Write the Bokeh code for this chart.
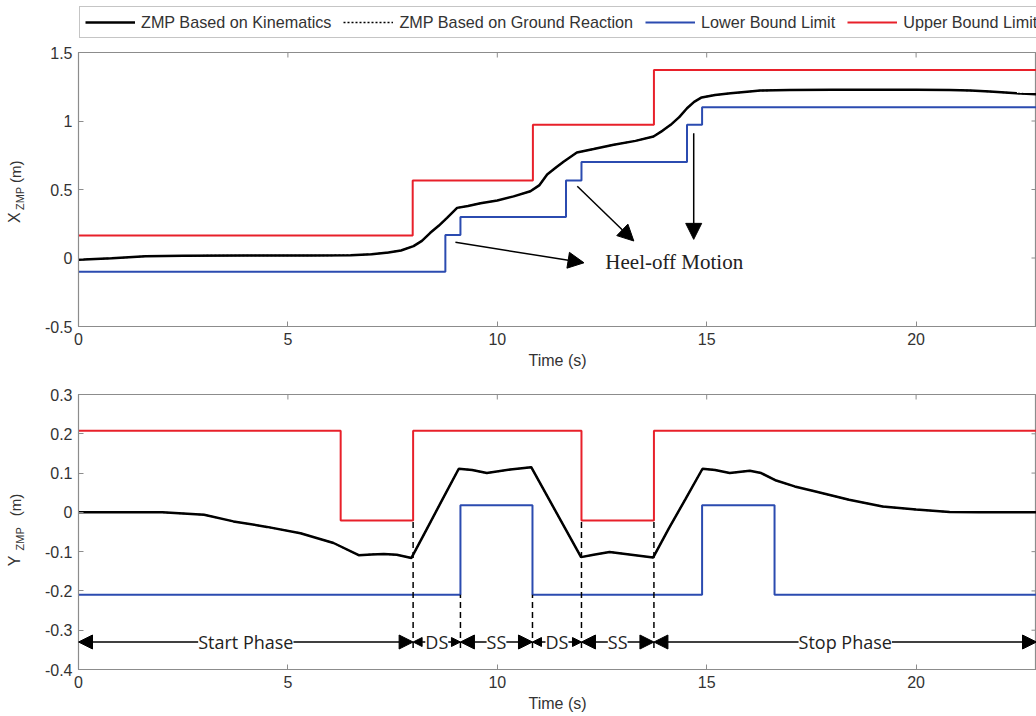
import math
import numpy as np
from bokeh.plotting import figure
from bokeh.layouts import column, row
from bokeh.models import (Legend, LegendItem, FixedTicker, Arrow, NormalHead, Label, Range1d)
from bokeh.core.properties import value
from bokeh.embed import file_html
from bokeh.resources import INLINE

# ---------------- data ----------------
t_end = 22.875
x_ticks = [0, 5, 10, 15, 20]
x_tick_labels = ["0", "5", "10", "15", "20"]

# X ZMP (top panel)
xk_t = [0, 0.8, 1.6, 2.5, 4.0, 5.5, 6.5, 7.0, 7.4, 7.7, 8.0, 8.2, 8.4, 8.6, 8.8, 9.04,
        9.3, 9.6, 10.0, 10.39, 10.79, 11.0, 11.19, 11.4, 11.59, 11.9, 12.3, 12.78, 13.3,
        13.73, 13.95, 14.14, 14.35, 14.53, 14.7, 14.88, 15.2, 15.57, 16.03, 16.28, 16.98,
        18.0, 19.0, 20.0, 20.8, 21.3, 21.76, 22.4, 22.875]
xk_v = [-0.012, -0.002, 0.013, 0.017, 0.018, 0.018, 0.02, 0.028, 0.04, 0.055, 0.087, 0.125,
        0.184, 0.235, 0.293, 0.366, 0.38, 0.40, 0.42, 0.45, 0.487, 0.53, 0.609, 0.66, 0.705,
        0.77, 0.795, 0.827, 0.855, 0.887, 0.93, 0.972, 1.03, 1.093, 1.14, 1.172, 1.19, 1.202,
        1.215, 1.222, 1.227, 1.228, 1.228, 1.228, 1.227, 1.222, 1.215, 1.202, 1.195]
xg_t = list(xk_t)
xg_v = list(xk_v)
xl_t = [0, 8.76, 9.12, 11.64, 12.01, 14.53, 14.89, t_end]
xl_v = [-0.10, 0.167, 0.30, 0.565, 0.70, 0.972, 1.10, 1.10]
xu_t = [0, 7.98, 10.85, 13.74, t_end]
xu_v = [0.165, 0.565, 0.972, 1.372, 1.372]
top_y_ticks = [-0.5, 0, 0.5, 1, 1.5]
top_y_labels = ["-0.5", "0", "0.5", "1", "1.5"]

# Y ZMP (bottom panel)
yk_t = [0, 1.0, 2.0, 3.0, 3.7, 4.5, 5.3, 6.09, 6.69, 7.0, 7.29, 7.6, 7.95, 8.3, 8.7, 9.08,
        9.4, 9.75, 10.31, 10.81, 11.2, 11.6, 12.0, 12.3, 12.68, 13.2, 13.72, 14.1, 14.5,
        14.9, 15.2, 15.55, 16.03, 16.3, 16.66, 17.1, 17.6, 18.4, 19.2, 20.0, 20.8, 21.5,
        t_end]
yk_v = [0.0, 0.0, 0.0, -0.006, -0.023, -0.037, -0.053, -0.078, -0.109, -0.107, -0.106,
        -0.108, -0.116, -0.046, 0.035, 0.111, 0.108, 0.100, 0.109, 0.115, 0.04, -0.037,
        -0.114, -0.108, -0.101, -0.108, -0.115, -0.04, 0.035, 0.111, 0.108, 0.100, 0.106,
        0.100, 0.081, 0.066, 0.053, 0.032, 0.015, 0.007, 0.001, 0.0, 0.0]
yg_t = list(yk_t)
yg_v = list(yk_v)
yl_t = [0, 9.12, 10.84, 14.89, 16.62, t_end]
yl_v = [-0.21, 0.018, -0.21, 0.018, -0.21, -0.21]
yu_t = [0, 6.26, 7.99, 12.01, 13.74, t_end]
yu_v = [0.208, -0.021, 0.208, -0.021, 0.208, 0.208]
bot_y_ticks = [-0.4, -0.3, -0.2, -0.1, 0, 0.1, 0.2, 0.3]
bot_y_labels = ["-0.4", "-0.3", "-0.2", "-0.1", "0", "0.1", "0.2", "0.3"]

phase_bounds = [0, 7.99, 9.12, 10.84, 12.01, 13.74, t_end]
phase_names = ["Start Phase", "DS", "SS", "DS", "SS", "Stop Phase"]
dash_tops = [-0.021, -0.21, -0.21, -0.021, -0.021]
phase_y = -0.33
dash_bottom = -0.345

heel_x0 = [9.0, 11.91, 14.69]
heel_y0 = [0.115, 0.524, 0.911]
heel_x1 = [12.07, 13.26, 14.69]
heel_y1 = [-0.035, 0.124, 0.136]
heel_text = "Heel-off Motion"

legend_labels = ["ZMP Based on Kinematics", "ZMP Based on Ground Reaction",
                 "Lower Bound Limit", "Upper Bound Limit"]

# ---------------- style ----------------
FRAME = "#8c8c8c"
TXT = "#333333"
SANS = "Liberation Sans"
BLUE = "#2b4bb0"
RED = "#e8202a"
LAB_W = 28
W = 1036


def bare(p):
    p.axis.visible = False
    p.xgrid.visible = False
    p.ygrid.visible = False
    p.outline_line_color = None
    p.background_fill_color = "white"
    p.border_fill_color = "white"


def make_fig(height, yr, yticks, ylabels, top_border, bottom_border):
    p = figure(width=W - LAB_W, height=height, output_backend="svg", toolbar_location=None,
               x_range=Range1d(0, t_end), y_range=Range1d(*yr),
               min_border_left=78 - LAB_W, min_border_right=0, min_border_top=top_border,
               min_border_bottom=bottom_border)
    p.xgrid.visible = False
    p.ygrid.visible = False
    p.outline_line_color = FRAME
    p.outline_line_width = 1.2
    p.background_fill_color = "white"
    p.border_fill_color = "white"
    for ax, ticks, labels in ((p.xaxis[0], x_ticks, x_tick_labels),
                              (p.yaxis[0], yticks, ylabels)):
        ax.ticker = FixedTicker(ticks=ticks)
        ax.major_label_overrides = {float(t): l for t, l in zip(ticks, labels)}
        ax.major_tick_in = 5
        ax.major_tick_out = 0
        ax.minor_tick_line_color = None
        ax.axis_line_color = FRAME
        ax.major_tick_line_color = FRAME
        ax.major_label_text_font = SANS
        ax.major_label_text_font_size = "16px"
        ax.major_label_text_color = TXT
        ax.major_label_standoff = 6
    p.xaxis.axis_label = "Time (s)"
    p.xaxis.axis_label_text_font = SANS
    p.xaxis.axis_label_text_font_size = "16px"
    p.xaxis.axis_label_text_font_style = "normal"
    p.xaxis.axis_label_text_color = TXT
    p.xaxis.axis_label_standoff = 4
    # inward ticks on the top and right edges of the box
    p.scatter(x_ticks, [yr[1]] * len(x_ticks), marker="dash", angle=math.pi / 2, size=10,
              line_color=FRAME, line_width=1)
    p.scatter([t_end] * len(yticks), yticks, marker="dash", size=10,
              line_color=FRAME, line_width=1)
    return p


def label_fig(height, yr, top_border, bottom_border, main, y_main, y_sub, y_unit):
    f = figure(width=LAB_W, height=height, output_backend="svg", toolbar_location=None,
               x_range=Range1d(0, LAB_W), y_range=Range1d(*yr),
               min_border_left=0, min_border_right=0, min_border_top=top_border,
               min_border_bottom=bottom_border)
    bare(f)
    ang = math.pi / 2
    f.text(x=[14], y=[y_main], text=[main], angle=ang, text_align="left",
           text_baseline="middle", text_font=value(SANS), text_font_size="16px",
           text_color=TXT)
    f.text(x=[19.5], y=[y_sub], text=["ZMP"], angle=ang, text_align="left",
           text_baseline="middle", text_font=value(SANS), text_font_size="11px",
           text_color=TXT)
    f.text(x=[14.5], y=[y_unit], text=["(m)"], angle=ang, text_align="left",
           text_baseline="middle", text_font=value(SANS), text_font_size="15px",
           text_color=TXT)
    return f


# ---------------- legend strip ----------------
leg_h = 42
pl = figure(width=W, height=leg_h, output_backend="svg", toolbar_location=None,
            x_range=Range1d(0, 1), y_range=Range1d(0, 1),
            min_border_left=0, min_border_right=0, min_border_top=0, min_border_bottom=0)
bare(pl)
nan1 = np.array([np.nan])
lr_kin = pl.line(nan1, nan1, line_color="black", line_width=2.5)
lr_gr = pl.line(nan1, nan1, line_color="black", line_width=1.5, line_dash="2 2")
lr_lo = pl.line(nan1, nan1, line_color=BLUE, line_width=2)
lr_up = pl.line(nan1, nan1, line_color=RED, line_width=2)
legend = Legend(items=[LegendItem(label=lab, renderers=[r], index=0) for lab, r in
                       zip(legend_labels, [lr_kin, lr_gr, lr_lo, lr_up])],
                orientation="horizontal", location=(79, 4), margin=0, padding=5,
                spacing=12, glyph_width=50, glyph_height=20, label_height=20,
                label_standoff=6, label_text_font=SANS, label_text_font_size="16.2px",
                label_text_color=TXT, border_line_color=FRAME, border_line_width=1.2,
                background_fill_color="white", background_fill_alpha=1.0)
pl.add_layout(legend, "center")

# ---------------- top figure ----------------
h1 = 380 - leg_h
p1 = make_fig(h1, (-0.5, 1.5), top_y_ticks, top_y_labels, 10, 54)
p1.step(xu_t, xu_v, mode="after", line_color=RED, line_width=2)
p1.step(xl_t, xl_v, mode="after", line_color=BLUE, line_width=2)
p1.line(xg_t, xg_v, line_color="black", line_width=1.5, line_dash="2 2")
p1.line(xk_t, xk_v, line_color="black", line_width=2.5)

for i in range(len(heel_x0)):
    p1.add_layout(Arrow(end=NormalHead(size=16, fill_color="black", line_color="black"),
                        x_start=heel_x0[i], y_start=heel_y0[i], x_end=heel_x1[i],
                        y_end=heel_y1[i], line_color="black", line_width=1.5))
p1.add_layout(Label(x=12.58, y=-0.03, text=heel_text, text_baseline="middle",
                    text_font="Liberation Serif", text_font_size="21px", text_color="#222222"))
l1 = label_fig(h1, (-0.5, 1.5), 10, 54, "X", 0.255, 0.35, 0.548)

# ---------------- bottom figure ----------------
h2 = 336
p2 = make_fig(h2, (-0.4, 0.3), bot_y_ticks, bot_y_labels, 14, 47)
p2.step(yu_t, yu_v, mode="after", line_color=RED, line_width=2)
p2.step(yl_t, yl_v, mode="after", line_color=BLUE, line_width=2)
p2.line(yg_t, yg_v, line_color="black", line_width=1.5, line_dash="2 2")
p2.line(yk_t, yk_v, line_color="black", line_width=2.5)

bx = phase_bounds[1:-1]
p2.segment(x0=bx, y0=[dash_bottom] * len(bx), x1=bx, y1=dash_tops,
           line_color="black", line_width=1.5, line_dash="6 4")

for i, name in enumerate(phase_names):
    a, b = phase_bounds[i], phase_bounds[i + 1]
    hs = 9 if name == "DS" else 14
    p2.add_layout(Arrow(start=NormalHead(size=hs, fill_color="black", line_color="black"),
                        end=NormalHead(size=hs, fill_color="black", line_color="black"),
                        x_start=a, y_start=phase_y, x_end=b, y_end=phase_y,
                        line_color="black", line_width=1.5))
    p2.add_layout(Label(x=(a + b) / 2, y=phase_y, text=name, text_align="center",
                        text_baseline="middle", text_font="Open Sans",
                        text_font_size="18px", text_color="#222222",
                        background_fill_color="white"))
l2 = label_fig(h2, (-0.4, 0.3), 14, 47, "Y", -0.137, -0.097, -0.010)

layout = column(pl, row(l1, p1, spacing=0), row(l2, p2, spacing=0), spacing=0)
open("out.html", "w").write(file_html(layout, INLINE))
